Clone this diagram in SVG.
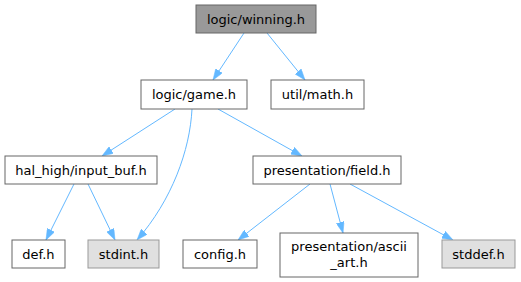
<svg xmlns="http://www.w3.org/2000/svg" width="521" height="282" viewBox="0 0 521 282">
  <style>
    .box { fill: #ffffff; stroke: #666666; stroke-width: 1; }
    .root { fill: #999999; stroke: #666666; stroke-width: 1; }
    .ext { fill: #e0e0e0; stroke: #999999; stroke-width: 1; }
    text { font-family: "DejaVu Sans", "Liberation Sans", sans-serif; font-size: 13px; fill: #000000; text-anchor: middle; }
    .edge { fill: none; stroke: #63b8ff; stroke-width: 1; marker-end: url(#arrow); }
  </style>
  <defs>
    <!-- filled triangular arrowhead shared by every include edge -->
    <marker id="arrow" viewBox="0 0 11 8" refX="11" refY="4" markerWidth="11" markerHeight="8" markerUnits="userSpaceOnUse" orient="auto">
      <path d="M0,0 L11,4 L0,8 z" fill="#63b8ff" stroke="#63b8ff" stroke-width="0.5"/>
    </marker>
  </defs>
  <rect width="521" height="282" fill="#ffffff"/>

  <g id="edges">
    <path class="edge" d="M244,33 L213,80"/>
    <path class="edge" d="M267,33 L305,80"/>
    <path class="edge" d="M175,109 L102,156"/>
    <path class="edge" d="M218,109 L302,156"/>
    <path class="edge" d="M192,109 C190,150 172,200 137,240"/>
    <path class="edge" d="M74,184 L46,240"/>
    <path class="edge" d="M88,184 L115,240"/>
    <path class="edge" d="M310,184 L238,240"/>
    <path class="edge" d="M330,184 L343,233"/>
    <path class="edge" d="M350,184 L453,240"/>
  </g>

  <g id="node-winning">
    <rect class="root" x="196" y="5" width="120" height="28"/>
    <text x="256" y="23.5">logic/winning.h</text>
  </g>
  <g id="node-game">
    <rect class="box" x="141" y="80" width="106" height="29"/>
    <text x="194" y="99">logic/game.h</text>
  </g>
  <g id="node-math">
    <rect class="box" x="271" y="80" width="93" height="29"/>
    <text x="317.5" y="99">util/math.h</text>
  </g>
  <g id="node-input-buf">
    <rect class="box" x="5" y="156" width="152" height="28"/>
    <text x="81" y="174.5">hal_high/input_buf.h</text>
  </g>
  <g id="node-field">
    <rect class="box" x="253" y="156" width="148" height="28"/>
    <text x="327" y="174.5">presentation/field.h</text>
  </g>
  <g id="node-def">
    <rect class="box" x="12" y="240" width="53" height="28"/>
    <text x="38.5" y="258.5">def.h</text>
  </g>
  <g id="node-stdint">
    <rect class="ext" x="88" y="240" width="71" height="28"/>
    <text x="123.5" y="258.5">stdint.h</text>
  </g>
  <g id="node-config">
    <rect class="box" x="183" y="240" width="74" height="28"/>
    <text x="220" y="258.5">config.h</text>
  </g>
  <g id="node-ascii-art">
    <rect class="box" x="280" y="233" width="138" height="44"/>
    <text x="349" y="251">presentation/ascii</text>
    <text x="349" y="267">_art.h</text>
  </g>
  <g id="node-stddef">
    <rect class="ext" x="442" y="240" width="73" height="28"/>
    <text x="478.5" y="258.5">stddef.h</text>
  </g>
</svg>
